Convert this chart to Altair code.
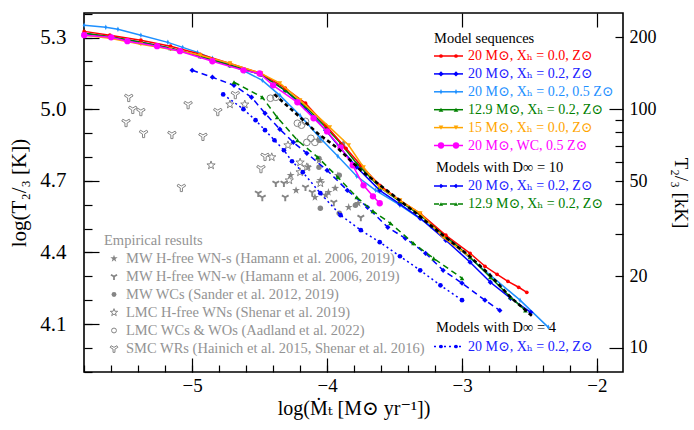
import altair as alt
import pandas as pd
import numpy as np

FONT = "Liberation Serif, Times New Roman, DejaVu Serif, serif"
W, H = 539, 359
PAD = {"left": 84, "top": 13, "right": 694 - 84 - W, "bottom": 430 - 13 - H}
XDOM = [-5.8015, -1.807]
YDOM = [3.899, 5.403]

# ---------------- model sequences (solid) ----------------
red_x = [-5.80, -5.61, -5.38, -5.16, -4.94, -4.72, -4.49, -4.31, -4.16, -4.01, -3.86, -3.75, -3.61, -3.46, -3.31, -3.12, -2.94, -2.83, -2.74, -2.66, -2.58, -2.52]
red_y = [5.326, 5.310, 5.289, 5.264, 5.230, 5.192, 5.150, 5.088, 5.025, 4.933, 4.836, 4.765, 4.681, 4.618, 4.564, 4.472, 4.396, 4.342, 4.308, 4.279, 4.254, 4.233]

blue_x = [-5.80, -5.61, -5.38, -5.16, -4.94, -4.72, -4.49, -4.31, -4.16, -4.01, -3.90, -3.78, -3.61, -3.46, -3.31, -3.12, -2.94, -2.79, -2.64, -2.49]
blue_y = [5.318, 5.301, 5.280, 5.255, 5.222, 5.184, 5.146, 5.079, 5.004, 4.912, 4.836, 4.757, 4.660, 4.602, 4.543, 4.451, 4.359, 4.275, 4.208, 4.149]

dblue_x = [-5.80, -5.64, -5.55, -5.38, -5.18, -5.07, -4.96, -4.85, -4.73, -4.61, -4.48, -4.35, -4.20, -4.05, -3.92, -3.78, -3.64, -3.46, -3.23, -3.01, -2.79, -2.57, -2.36]
dblue_y = [5.352, 5.343, 5.335, 5.310, 5.280, 5.259, 5.238, 5.213, 5.188, 5.159, 5.121, 5.058, 4.974, 4.878, 4.803, 4.719, 4.660, 4.598, 4.510, 4.409, 4.304, 4.200, 4.086]

green_x = [-5.80, -5.61, -5.38, -5.16, -4.94, -4.72, -4.49, -4.31, -4.16, -4.01, -3.90, -3.78, -3.61, -3.46, -3.31, -3.12, -2.94, -2.79, -2.64, -2.53]
green_y = [5.318, 5.305, 5.280, 5.255, 5.222, 5.184, 5.146, 5.079, 5.012, 4.924, 4.857, 4.773, 4.673, 4.614, 4.556, 4.468, 4.380, 4.296, 4.212, 4.157]

orange_x = [-5.80, -5.61, -5.38, -5.16, -4.94, -4.72, -4.49, -4.35, -4.20, -3.98, -3.84, -3.73, -3.61, -3.46, -3.31, -3.14, -2.94]
orange_y = [5.310, 5.297, 5.272, 5.251, 5.226, 5.192, 5.150, 5.109, 5.037, 4.924, 4.849, 4.757, 4.673, 4.618, 4.564, 4.464, 4.380]

mag_x = [-5.80, -5.60, -5.48, -5.26, -5.09, -4.85, -4.62, -4.50, -4.40, -4.22, -4.10, -4.00, -3.90, -3.81, -3.73, -3.66, -3.61]
mag_y = [5.310, 5.301, 5.285, 5.264, 5.243, 5.201, 5.163, 5.150, 5.100, 5.029, 4.962, 4.907, 4.840, 4.765, 4.681, 4.635, 4.606]

black_x = [-4.39, -4.20, -4.07, -3.92, -3.75, -3.53, -3.36, -3.16, -2.96, -2.79, -2.64, -2.48]
black_y = [5.062, 4.966, 4.899, 4.836, 4.744, 4.648, 4.573, 4.480, 4.392, 4.304, 4.212, 4.133]

# ---------------- models with D_inf = 10 / 4 ----------------
bd10_x = [-5.00, -4.85, -4.69, -4.56, -4.46, -4.35, -4.25, -4.15, -4.00, -3.85, -3.70, -3.55, -3.42, -3.27, -3.14, -3.00, -2.83, -2.72]
bd10_y = [5.163, 5.134, 5.100, 5.050, 4.983, 4.916, 4.861, 4.815, 4.744, 4.660, 4.589, 4.505, 4.459, 4.396, 4.325, 4.271, 4.200, 4.157]

gd10_x = [-4.69, -4.48, -4.37, -4.22, -4.07, -3.92, -3.78, -3.66, -3.53, -3.36, -3.21, -3.00]
gd10_y = [5.113, 5.050, 4.966, 4.870, 4.799, 4.715, 4.631, 4.573, 4.522, 4.438, 4.375, 4.292]

bd4_x = [-4.77, -4.62, -4.53, -4.46, -4.39, -4.32, -4.26, -4.18, -4.05, -3.90, -3.75, -3.61, -3.46, -3.31, -3.16, -3.00]
bd4_y = [5.062, 5.000, 4.954, 4.912, 4.870, 4.828, 4.782, 4.736, 4.648, 4.556, 4.493, 4.443, 4.384, 4.325, 4.262, 4.200]

# ---------------- empirical results ----------------
wns_x = [-4.27, -4.14, -4.06, -4.23, -4.09, -3.99, -3.92, -3.84, -3.77, -3.88, -4.01, -3.94, -4.05]
wns_y = [4.723, 4.757, 4.786, 4.660, 4.631, 4.652, 4.723, 4.589, 4.606, 4.857, 4.640, 4.669, 4.702]

wnw_x = [-4.38, -4.32, -4.31, -4.16, -4.11, -3.95, -3.75, -4.51, -4.48]
wnw_y = [4.690, 4.690, 4.631, 4.673, 4.652, 4.610, 4.547, 4.648, 4.631]

wc_x = [-4.06, -4.06, -4.06, -3.91, -4.05, -3.91, -3.79]
wc_y = [4.870, 4.794, 4.757, 4.723, 4.585, 4.564, 4.598]

lwn_x = [-4.72, -4.61, -4.86, -4.41, -4.29, -4.20, -4.28, -4.20, -4.05, -4.15]
lwn_y = [5.020, 5.020, 4.765, 4.799, 4.849, 4.777, 4.702, 4.736, 4.690, 4.757]

lwc_x = [-4.42, -4.38, -4.22, -4.19, -4.16, -4.15, -4.12, -4.09, -4.05]
lwc_y = [5.046, 5.050, 4.941, 4.933, 4.949, 4.861, 4.878, 4.861, 4.874]

smc_x = [-5.47, -5.44, -5.38, -5.49, -5.36, -5.15, -5.03, -4.81, -4.92, -5.08, -4.68, -4.46, -4.49]
smc_y = [5.050, 5.000, 4.991, 4.945, 4.899, 4.895, 5.020, 4.991, 4.887, 4.673, 5.062, 4.803, 4.752]

# ---------------- texts ----------------
seq_title = "Model sequences"
seq_labels = ["20 M⊙, Xₕ = 0.0, Z⊙", "20 M⊙, Xₕ = 0.2, Z⊙", "20 M⊙, Xₕ = 0.2, 0.5 Z⊙",
              "12.9 M⊙, Xₕ = 0.2, Z⊙", "15 M⊙, Xₕ = 0.0, Z⊙", "20 M⊙, WC, 0.5 Z⊙"]
d10_title = "Models with D∞ = 10"
d10_labels = ["20 M⊙, Xₕ = 0.2, Z⊙", "12.9 M⊙, Xₕ = 0.2, Z⊙"]
d4_title = "Models with D∞ = 4"
d4_labels = ["20 M⊙, Xₕ = 0.2, Z⊙"]
emp_title = "Empirical results"
emp_labels = ["MW H-free WN-s (Hamann et al. 2006, 2019)", "MW H-free WN-w (Hamann et al. 2006, 2019)",
              "MW WCs (Sander et al. 2012, 2019)", "LMC H-free WNs (Shenar et al. 2019)",
              "LMC WCs & WOs (Aadland et al. 2022)", "SMC WRs (Hainich et al. 2015, Shenar et al. 2016)"]

x_ticks = [-5, -4, -3, -2]
x_minor = [round(v, 1) for v in np.arange(-5.8, -1.85, 0.2)]
y_ticks = [4.1, 4.4, 4.7, 5.0, 5.3]
y_minor = [round(v, 1) for v in np.arange(3.9, 5.41, 0.1)]
t_labels_kK = [10, 20, 50, 100, 200]
t_minor_kK = [20, 30, 40, 50, 60, 70, 80, 90, 200]
t_major_kK = [10, 100]

STAR = "M0,-1L0.235,-0.324L0.951,-0.309L0.380,0.124L0.588,0.809L0,0.4L-0.588,0.809L-0.380,0.124L-0.951,-0.309L-0.235,-0.324Z"
YSH = "M0,-0.289L0.741,-0.717L0.991,-0.283L0.25,0.144L0.25,1L-0.25,1L-0.25,0.144L-0.991,-0.283L-0.741,-0.717Z"
THIND = "M0,-1L0.45,0L0,1L-0.45,0Z"

xsc = alt.Scale(domain=XDOM, nice=False, zero=False)
ysc = alt.Scale(domain=YDOM, nice=False, zero=False)


def xy(chart):
    return chart.encode(x=alt.X("x:Q", scale=xsc, axis=None), y=alt.Y("y:Q", scale=ysc, axis=None))


layers = []

GRAY = "#858585"
emp_sets = [
    (wns_x, wns_y, dict(shape=STAR, filled=True, size=70, color=GRAY, strokeWidth=0)),
    (wnw_x, wnw_y, dict(shape=YSH, filled=True, size=60, color=GRAY, strokeWidth=0)),
    (wc_x, wc_y, dict(shape="circle", filled=True, size=30, color=GRAY, strokeWidth=0)),
    (lwn_x, lwn_y, dict(shape=STAR, filled=False, size=75, color=GRAY, strokeWidth=1)),
    (lwc_x, lwc_y, dict(shape="circle", filled=False, size=45, color=GRAY, strokeWidth=1)),
    (smc_x, smc_y, dict(shape=YSH, filled=False, size=75, color=GRAY, strokeWidth=1)),
]
for ex, ey, kw in emp_sets:
    layers.append(xy(alt.Chart(pd.DataFrame({"x": ex, "y": ey})).mark_point(opacity=1, **kw)))

series = [
    (bd4_x, bd4_y, "#0000ff", [2, 3], 1.5, dict(shape="circle", size=22)),
    (bd10_x, bd10_y, "#0000ff", [6, 4], 1.5, dict(shape="diamond", size=28)),
    (gd10_x, gd10_y, "#008000", [6, 4], 1.5, dict(shape="triangle-up", size=22)),
    (dblue_x, dblue_y, "#1e90ff", None, 1.5, dict(shape=THIND, size=30)),
    (blue_x, blue_y, "#0000ff", None, 1.5, dict(shape="diamond", size=28)),
    (green_x, green_y, "#008000", None, 1.5, dict(shape="triangle-up", size=22)),
    (red_x, red_y, "#ff0000", None, 1.5, dict(shape="circle", size=14)),
    (orange_x, orange_y, "#ffa500", None, 1.5, dict(shape="triangle-down", size=22)),
    (mag_x, mag_y, "#ff00ff", None, 1.5, dict(shape="circle", size=40)),
]
for sx, sy, col, dash, sw, mk in series:
    df = pd.DataFrame({"x": sx, "y": sy})
    lkw = dict(color=col, strokeWidth=sw)
    if dash:
        lkw["strokeDash"] = dash
    layers.append(xy(alt.Chart(df).mark_line(**lkw)))
    layers.append(xy(alt.Chart(df).mark_point(filled=True, opacity=1, color=col, **mk)))

layers.append(xy(alt.Chart(pd.DataFrame({"x": black_x, "y": black_y})).mark_line(
    color="black", strokeWidth=2.6, strokeDash=[4, 3])))

# ---------------- axes (labels + inward ticks) ----------------
dummy = pd.DataFrame({"x": [-4.0], "y": [4.7]})


def axis_layer(xaxis=None, yaxis=None):
    xe = alt.X("x:Q", scale=xsc, axis=xaxis) if xaxis is not None else alt.X("x:Q", scale=xsc, axis=None)
    ye = alt.Y("y:Q", scale=ysc, axis=yaxis) if yaxis is not None else alt.Y("y:Q", scale=ysc, axis=None)
    return alt.Chart(dummy).mark_point(opacity=0).encode(x=xe, y=ye)


tickkw = dict(labels=False, domain=False, grid=False, title=None, tickColor="black", tickWidth=1.2)

layers += [
    axis_layer(xaxis=alt.Axis(orient="bottom", values=x_ticks, ticks=False, tickSize=0, domain=False,
                              labelPadding=4, labelFontSize=19, labelFont=FONT, labelColor="black",
                              title="log(Ṁₜ [M⊙ yr⁻¹])", titleFont=FONT, titleFontSize=20,
                              titleFontWeight="normal", titleColor="black", titlePadding=3, grid=False)),
    axis_layer(xaxis=alt.Axis(orient="top", offset=-H, values=x_minor, tickSize=7, **tickkw)),
    axis_layer(xaxis=alt.Axis(orient="top", offset=-H, values=x_ticks, tickSize=14, **tickkw)),
    axis_layer(xaxis=alt.Axis(orient="bottom", offset=-H, values=x_ticks, tickSize=14, **tickkw)),
    axis_layer(yaxis=alt.Axis(orient="left", values=y_ticks, format=".1f", ticks=False, tickSize=0,
                              domain=False, labelPadding=18, labelFontSize=21, labelFont=FONT,
                              labelColor="black", title="log(T₂/₃ [K])", titleFont=FONT,
                              titleFontSize=21, titleFontWeight="normal", titleColor="black",
                              titlePadding=10, grid=False)),
    axis_layer(yaxis=alt.Axis(orient="right", offset=-W, values=y_minor, tickSize=8, **tickkw)),
    axis_layer(yaxis=alt.Axis(orient="right", offset=-W, values=y_ticks, tickSize=15, **tickkw)),
    axis_layer(yaxis=alt.Axis(orient="right", values=[float(np.log10(v * 1000)) for v in t_labels_kK],
                              labelExpr="format(round(pow(10, datum.value) / 1000), 'd')",
                              ticks=False, tickSize=0, domain=False, labelPadding=6, labelFontSize=18,
                              labelFont=FONT, labelColor="black", title="T₂/₃ [kK]", titleFont=FONT,
                              titleFontSize=19, titleFontWeight="normal", titleColor="black",
                              titlePadding=14, grid=False)),
    axis_layer(yaxis=alt.Axis(orient="left", offset=-W, values=[float(np.log10(v * 1000)) for v in t_minor_kK],
                              tickSize=8, **tickkw)),
    axis_layer(yaxis=alt.Axis(orient="left", offset=-W, values=[float(np.log10(v * 1000)) for v in t_major_kK],
                              tickSize=14, **tickkw)),
]

# ---------------- custom legends (pixel layout) ----------------
one = pd.DataFrame({"a": [0]})


def txt(s, px, py, col="black", size=14, align="left"):
    return alt.Chart(one).mark_text(align=align, baseline="middle", font=FONT, fontSize=size,
                                    color=col).encode(x=alt.value(px), y=alt.value(py), text=alt.value(s))


def sample(py, col, dash, mk, x0=350, x1=379):
    kw = dict(color=col, strokeWidth=1.5)
    if dash:
        kw["strokeDash"] = dash
    out = [alt.Chart(one).mark_rule(**kw).encode(x=alt.value(x0), x2=alt.value(x1), y=alt.value(py))]
    for mx in (x0 + 7, x1 - 7):
        out.append(alt.Chart(one).mark_point(filled=True, opacity=1, color=col, **mk).encode(
            x=alt.value(mx), y=alt.value(py)))
    return out


seq_cols = ["#ff0000", "#0000ff", "#1e90ff", "#008000", "#ffa500", "#ff00ff"]
seq_mk = [dict(shape="circle", size=14), dict(shape="diamond", size=28), dict(shape=THIND, size=30),
          dict(shape="triangle-up", size=22), dict(shape="triangle-down", size=22), dict(shape="circle", size=40)]
txt_cols = ["#ff0000", "#2020ff", "#1e90ff", "#008000", "#ffa500", "#ff00ff"]

layers.append(txt(seq_title, 350, 25.5, size=14.5))
for i, lab in enumerate(seq_labels):
    py = 43 + 17.9 * i
    layers += sample(py, seq_cols[i], None, seq_mk[i])
    layers.append(txt(lab, 384, py, txt_cols[i]))

layers.append(txt(d10_title, 352, 155, size=14.5))
d10_cols = ["#0000ff", "#008000"]
d10_mk = [dict(shape="diamond", size=22), dict(shape="triangle-up", size=18)]
for i, lab in enumerate(d10_labels):
    py = 173 + 18 * i
    layers += sample(py, d10_cols[i], [5, 3], d10_mk[i])
    layers.append(txt(lab, 384, py, ["#2020ff", "#008000"][i]))

layers.append(txt(d4_title, 352, 315, size=14.5))
layers += sample(333.5, "#0000ff", [2, 3], dict(shape="circle", size=14))
layers.append(txt(d4_labels[0], 384, 333.5, "#2020ff"))

EGRAY = "#939393"
layers.append(txt(emp_title, 20, 228, EGRAY, 14.5))
emp_mk = [dict(shape=STAR, filled=True, size=60, strokeWidth=0),
          dict(shape=YSH, filled=True, size=50, strokeWidth=0),
          dict(shape="circle", filled=True, size=24, strokeWidth=0),
          dict(shape=STAR, filled=False, size=60, strokeWidth=1),
          dict(shape="circle", filled=False, size=24, strokeWidth=1),
          dict(shape=YSH, filled=False, size=60, strokeWidth=1)]
for i, lab in enumerate(emp_labels):
    py = 245.5 + 18 * i
    layers.append(alt.Chart(one).mark_point(opacity=1, color=GRAY, **emp_mk[i]).encode(
        x=alt.value(30), y=alt.value(py)))
    layers.append(txt(lab, 42, py, EGRAY, 14.5))

chart = alt.layer(*layers).resolve_axis(x="independent", y="independent").properties(
    width=W, height=H, padding=PAD, autosize=alt.AutoSizeParams(type="none"), background="white"
).configure_view(stroke="black", strokeWidth=1.6).configure_axis(grid=False)

chart.save("out.html", embed_options={"renderer": "svg", "actions": False})
